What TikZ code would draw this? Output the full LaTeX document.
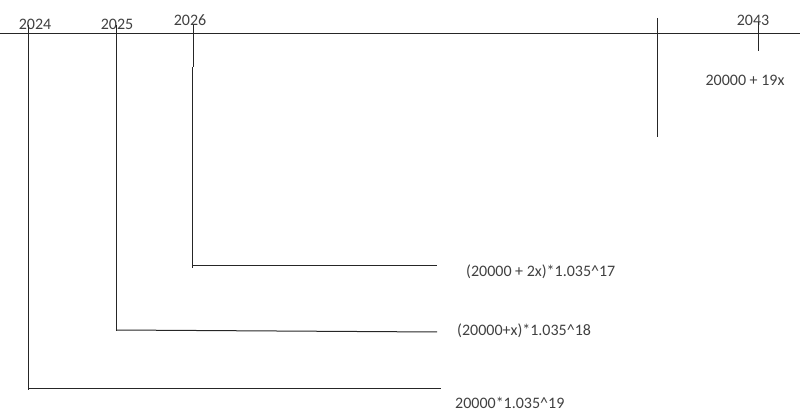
\documentclass[tikz,border=0pt]{standalone}
\usepackage{fontspec}
\setmainfont{Carlito}
\usepackage{tikz}

\tikzset{
  yearlab/.style={inner sep=0pt, text=black!75, font=\fontsize{16}{18}\selectfont},
  sumlab/.style={inner sep=0pt, anchor=west, text=black!75, font=\fontsize{16}{18}\selectfont},
  tline/.style={draw=black!85, line width=1pt}
}

\begin{document}
\begin{tikzpicture}[x=1pt, y=-1pt]
    \useasboundingbox (0,0) rectangle (800,419);
    \coordinate (axl) at (0,34);
    \coordinate (axr) at (800,34);
    \draw[tline] (axl) -- (axr);

    \node[yearlab] (y2024) at (35,24) {2024};
    \node[yearlab] (y2025) at (117,24) {2025};
    \node[yearlab] (y2026) at (190,20) {2026};
    \node[yearlab] (y2043) at (753,20) {2043};

    \coordinate (a2024) at (28,25);
    \coordinate (b2024) at (28,390);
    \coordinate (c2024) at (441,388);
    \coordinate (a2025) at (116,25);
    \coordinate (b2025) at (116,331);
    \coordinate (c2025) at (437,332);
    \coordinate (a2026) at (193,25);
    \coordinate (m2026) at (193,67);
    \coordinate (n2026) at (192,67);
    \coordinate (b2026) at (192,268);
    \coordinate (c2026) at (437,266);
    \draw[tline] (a2024) -- (b2024);
    \draw[tline] (28,388) -- (c2024);
    \draw[tline] (a2025) -- (b2025);
    \draw[tline] (116,330) -- (c2025);
    \draw[tline] (a2026) -- (m2026);
    \draw[tline] (n2026) -- (b2026);
    \draw[tline] (192,266) -- (c2026);

    \coordinate (ga) at (657,18);
    \coordinate (gb) at (657,137);
    \draw[tline] (ga) -- (gb);
    \coordinate (ta) at (758,22);
    \coordinate (tb) at (758,51);
    \draw[tline] (ta) -- (tb);

    \node[yearlab] (s2043) at (745,80) {20000 + 19x};
    \node[sumlab] (s2026) at (466,272) {(20000 + 2x)*1.035\^{}17};
    \node[sumlab] (s2025) at (457,331) {(20000+x)*1.035\^{}18};
    \node[sumlab] (s2024) at (455,403) {20000*1.035\^{}19};
\end{tikzpicture}
\end{document}
